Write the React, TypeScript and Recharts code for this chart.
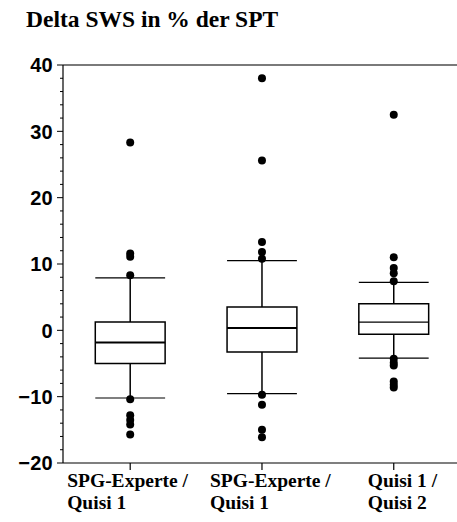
import React from "react";
import {
  ComposedChart,
  XAxis,
  YAxis,
  Scatter,
  ReferenceArea,
  ReferenceLine,
} from "recharts";

// ── Data ─────────────────────────────────────────────────────
const TITLE = "Delta SWS in % der SPT";
const CATEGORIES = [1, 2, 3];
const LABEL_LINE_1 = ["SPG-Experte /", "SPG-Experte /", "Quisi 1 /"];
const LABEL_LINE_2 = ["Quisi 1", "Quisi 1", "Quisi 2"];

const WHISKER_LOW = [-10.2, -9.55, -4.2];
const Q1 = [-5.0, -3.27, -0.6];
const MEDIAN = [-1.85, 0.35, 1.25];
const Q3 = [1.25, 3.5, 4.0];
const WHISKER_HIGH = [7.9, 10.5, 7.24];

const OUTLIERS_1 = [28.3, 11.6, 11.1, 8.3, -10.4, -12.8, -13.5, -14.2, -15.7];
const OUTLIERS_2 = [38.0, 25.6, 13.3, 11.8, 10.8, -9.7, -11.2, -15.0, -16.1];
const OUTLIERS_3 = [32.5, 11.0, 9.4, 8.6, 7.4, -4.3, -4.9, -5.3, -7.7, -8.2, -8.6];

const Y_TICKS = [
  -20, -18, -16, -14, -12, -10, -8, -6, -4, -2, 0, 2, 4, 6, 8, 10, 12, 14, 16,
  18, 20, 22, 24, 26, 28, 30, 32, 34, 36, 38, 40,
];

// ── Styles ───────────────────────────────────────────────────
const BOX_HALF = 0.265;
const LABEL_DX = [-63, -52, -26];
const MEDIAN_WIDTH = [2, 2, 1.2];
const SERIF = "'Liberation Serif', 'Times New Roman', serif";
const SANS = "'Liberation Sans', Arial, sans-serif";

const outlierData = [OUTLIERS_1, OUTLIERS_2, OUTLIERS_3].flatMap((list, i) =>
  list.map((y) => ({ x: CATEGORIES[i], y }))
);

// eslint-disable-next-line @typescript-eslint/no-explicit-any
function YTick(props: any) {
  const { x, y, payload } = props;
  const v = payload.value as number;
  const major = v % 10 === 0;
  const label = v < 0 ? `\u2212${Math.abs(v)}` : `${v}`;
  return (
    <g>
      <line x1={x} x2={x - (major ? 6 : 3)} y1={y} y2={y} stroke="#000" strokeWidth={1} />
      {major && (
        <text
          x={x - 10}
          y={y}
          dy="0.36em"
          textAnchor="end"
          fill="#000"
          fontSize={20}
          fontWeight="bold"
          letterSpacing={0.3}
          style={{ fontFamily: SANS }}
        >
          {label}
        </text>
      )}
    </g>
  );
}

// eslint-disable-next-line @typescript-eslint/no-explicit-any
function XTick(props: any) {
  const { x, y, payload } = props;
  const i = CATEGORIES.indexOf(payload.value);
  if (i < 0) return null;
  const sx = x + LABEL_DX[i];
  return (
    <g style={{ fontFamily: SERIF }} fontSize={19.5} fontWeight="bold" fill="#000">
      <text x={sx} y={y + 15} textAnchor="start">{LABEL_LINE_1[i]}</text>
      <text x={sx} y={y + 37} textAnchor="start">{LABEL_LINE_2[i]}</text>
    </g>
  );
}

export default function App() {
  return (
    <div style={{ position: "absolute", left: 0, top: 0, width: 457, height: 522, background: "#fff" }}>
      <svg width={457} height={40} style={{ position: "absolute", left: 0, top: 0 }}>
        <text x={26} y={27} fontSize={23.5} fontWeight="bold" fill="#000" style={{ fontFamily: SERIF }}>
          {TITLE}
        </text>
      </svg>
      <ComposedChart
        width={457}
        height={522}
        margin={{ top: 65, right: 0, bottom: 0, left: 0 }}
      >
        <XAxis
          type="number"
          dataKey="x"
          domain={[0.49, 3.48]}
          ticks={CATEGORIES}
          allowDataOverflow
          height={59}
          tickSize={7}
          tickMargin={2}
          tick={XTick}
          axisLine={{ stroke: "#000", strokeWidth: 1.2 }}
          tickLine={{ stroke: "#000", strokeWidth: 1.2 }}
        />
        <YAxis
          type="number"
          dataKey="y"
          domain={[-20, 40]}
          ticks={Y_TICKS}
          interval={0}
          allowDataOverflow
          width={63}
          tickSize={0}
          tickMargin={0}
          tickLine={false}
          tick={YTick}
          axisLine={{ stroke: "#000", strokeWidth: 1.2 }}
        />

        <ReferenceLine y={40} stroke="#7a7a7a" strokeWidth={2} />

        {CATEGORIES.map((c, i) => (
          <ReferenceLine
            key={`wu${c}`}
            segment={[{ x: c, y: Q3[i] }, { x: c, y: WHISKER_HIGH[i] }]}
            stroke="#000"
            strokeWidth={1.5}
          />
        ))}
        {CATEGORIES.map((c, i) => (
          <ReferenceLine
            key={`wl${c}`}
            segment={[{ x: c, y: Q1[i] }, { x: c, y: WHISKER_LOW[i] }]}
            stroke="#000"
            strokeWidth={1.5}
          />
        ))}
        {CATEGORIES.map((c, i) => (
          <ReferenceLine
            key={`cu${c}`}
            segment={[{ x: c - BOX_HALF, y: WHISKER_HIGH[i] }, { x: c + BOX_HALF, y: WHISKER_HIGH[i] }]}
            stroke="#000"
            strokeWidth={1.2}
          />
        ))}
        {CATEGORIES.map((c, i) => (
          <ReferenceLine
            key={`cl${c}`}
            segment={[{ x: c - BOX_HALF, y: WHISKER_LOW[i] }, { x: c + BOX_HALF, y: WHISKER_LOW[i] }]}
            stroke="#000"
            strokeWidth={1.2}
          />
        ))}
        {CATEGORIES.map((c, i) => (
          <ReferenceArea
            key={`b${c}`}
            x1={c - BOX_HALF}
            x2={c + BOX_HALF}
            y1={Q1[i]}
            y2={Q3[i]}
            fill="#fff"
            fillOpacity={1}
            stroke="#000"
            strokeWidth={1.5}
          />
        ))}
        {CATEGORIES.map((c, i) => (
          <ReferenceLine
            key={`m${c}`}
            segment={[{ x: c - BOX_HALF, y: MEDIAN[i] }, { x: c + BOX_HALF, y: MEDIAN[i] }]}
            stroke="#000"
            strokeWidth={MEDIAN_WIDTH[i]}
          />
        ))}

        <Scatter
          data={outlierData}
          dataKey="y"
          isAnimationActive={false}
          // eslint-disable-next-line @typescript-eslint/no-explicit-any
          shape={(p: any) => <circle cx={p.cx} cy={p.cy} r={4} fill="#000" />}
        />
      </ComposedChart>
    </div>
  );
}
